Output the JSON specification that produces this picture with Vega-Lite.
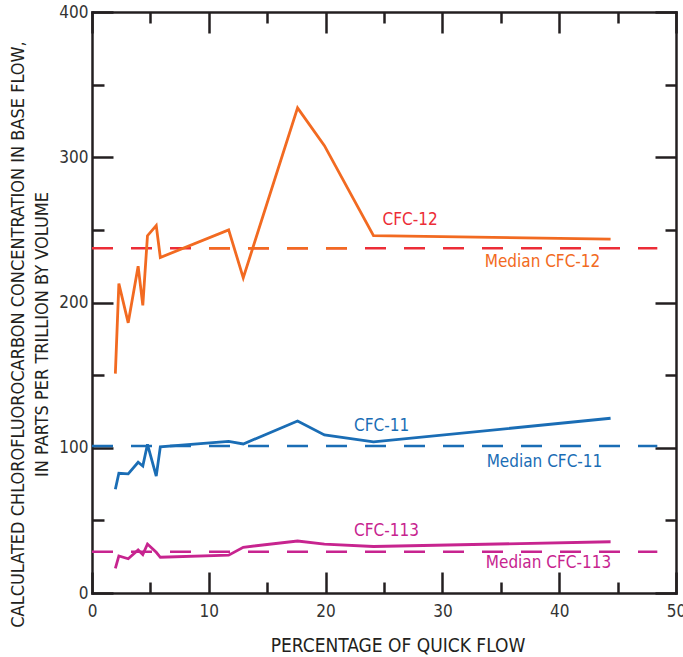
{
  "$schema": "https://vega.github.io/schema/vega-lite/v6.json",
  "width": 584,
  "height": 581,
  "autosize": {"type": "none"},
  "padding": {"left": 92, "top": 12, "right": 7, "bottom": 64},
  "background": "white",
  "config": {
    "view": {"stroke": null},
    "font": "'DejaVu Sans Condensed', Roboto",
    "axis": {"grid": false}
  },
  "datasets": {
    "lines": [
      {"gas": "CFC-12", "quick": 2.0, "conc": 151},
      {"gas": "CFC-12", "quick": 2.3, "conc": 213},
      {"gas": "CFC-12", "quick": 3.1, "conc": 186},
      {"gas": "CFC-12", "quick": 3.95, "conc": 225},
      {"gas": "CFC-12", "quick": 4.35, "conc": 198},
      {"gas": "CFC-12", "quick": 4.75, "conc": 246},
      {"gas": "CFC-12", "quick": 5.5, "conc": 253},
      {"gas": "CFC-12", "quick": 5.85, "conc": 231},
      {"gas": "CFC-12", "quick": 11.7, "conc": 250},
      {"gas": "CFC-12", "quick": 12.95, "conc": 217},
      {"gas": "CFC-12", "quick": 17.6, "conc": 334},
      {"gas": "CFC-12", "quick": 19.9, "conc": 308},
      {"gas": "CFC-12", "quick": 24.1, "conc": 246},
      {"gas": "CFC-12", "quick": 44.4, "conc": 243.7},
      {"gas": "CFC-11", "quick": 2.0, "conc": 71.4},
      {"gas": "CFC-11", "quick": 2.3, "conc": 82.4},
      {"gas": "CFC-11", "quick": 3.1, "conc": 82},
      {"gas": "CFC-11", "quick": 3.95, "conc": 90},
      {"gas": "CFC-11", "quick": 4.35, "conc": 87.4},
      {"gas": "CFC-11", "quick": 4.75, "conc": 102.4},
      {"gas": "CFC-11", "quick": 5.5, "conc": 80.5},
      {"gas": "CFC-11", "quick": 5.85, "conc": 100.7},
      {"gas": "CFC-11", "quick": 11.7, "conc": 104.4},
      {"gas": "CFC-11", "quick": 12.95, "conc": 102.6},
      {"gas": "CFC-11", "quick": 17.6, "conc": 118.4},
      {"gas": "CFC-11", "quick": 19.9, "conc": 108.8},
      {"gas": "CFC-11", "quick": 24.1, "conc": 104},
      {"gas": "CFC-11", "quick": 44.4, "conc": 120.3},
      {"gas": "CFC-113", "quick": 2.0, "conc": 17},
      {"gas": "CFC-113", "quick": 2.3, "conc": 25.5},
      {"gas": "CFC-113", "quick": 3.1, "conc": 23.6},
      {"gas": "CFC-113", "quick": 3.95, "conc": 29.6},
      {"gas": "CFC-113", "quick": 4.35, "conc": 26.4},
      {"gas": "CFC-113", "quick": 4.75, "conc": 33.7},
      {"gas": "CFC-113", "quick": 5.5, "conc": 28},
      {"gas": "CFC-113", "quick": 5.85, "conc": 24.6},
      {"gas": "CFC-113", "quick": 11.7, "conc": 26},
      {"gas": "CFC-113", "quick": 12.95, "conc": 31.5},
      {"gas": "CFC-113", "quick": 17.6, "conc": 35.8},
      {"gas": "CFC-113", "quick": 19.9, "conc": 33.7},
      {"gas": "CFC-113", "quick": 24.1, "conc": 32},
      {"gas": "CFC-113", "quick": 44.4, "conc": 35.3}
    ],
    "medians": [
      {"gas": "CFC-12", "median": 237.3, "from": 0, "to": 48.4},
      {"gas": "CFC-11", "median": 101.2, "from": 0, "to": 48.4},
      {"gas": "CFC-113", "median": 28.4, "from": 0, "to": 48.4}
    ],
    "medianOverlay": [
      {"gas": "CFC-12", "median": 237.3, "from": 10.017, "to": 21.83}
    ],
    "labels": [
      {"gas": "CFC-12", "kind": "series", "text": "CFC-12", "quick": 27.23, "conc": 257.1},
      {"gas": "CFC-12", "kind": "median", "text": "Median CFC-12", "quick": 38.57, "conc": 227.9},
      {"gas": "CFC-11", "kind": "series", "text": "CFC-11", "quick": 24.79, "conc": 115.0},
      {"gas": "CFC-11", "kind": "median", "text": "Median CFC-11", "quick": 38.74, "conc": 90.2},
      {"gas": "CFC-113", "kind": "series", "text": "CFC-113", "quick": 25.21, "conc": 42.7},
      {"gas": "CFC-113", "kind": "median", "text": "Median CFC-113", "quick": 39.08, "conc": 20.65}
    ]
  },
  "layer": [
    {
      "data": {"name": "medians"},
      "mark": {"type": "rule", "strokeWidth": 2.5, "strokeDash": [21, 18]},
      "encoding": {
        "x": {
          "field": "from", "type": "quantitative",
          "scale": {"domain": [0, 50], "nice": false, "zero": true},
          "axis": {
            "orient": "top", "labels": false, "title": null,
            "values": [0, 5, 10, 15, 20, 25, 30, 35, 40, 45, 50],
            "tickSize": {"condition": {"test": "datum.value % 10 === 0", "value": -21}, "value": -11},
            "tickColor": "#231f20", "tickWidth": 2.5,
            "domainColor": "#231f20", "domainWidth": 2.5, "domainCap": "square"
          }
        },
        "x2": {"field": "to"},
        "y": {
          "field": "median", "type": "quantitative",
          "scale": {"domain": [0, 400], "nice": false},
          "axis": {
            "orient": "right", "labels": false, "title": null,
            "values": [0, 50, 100, 150, 200, 250, 300, 350, 400],
            "tickSize": {"condition": {"test": "datum.value % 100 === 0", "value": -21}, "value": -11},
            "tickColor": "#231f20", "tickWidth": 2.5,
            "domainColor": "#231f20", "domainWidth": 2.5, "domainCap": "square"
          }
        },
        "color": {
          "condition": {"test": "datum.gas === 'CFC-12'", "value": "#ec2d37"},
          "field": "gas", "type": "nominal",
          "scale": {"domain": ["CFC-12", "CFC-11", "CFC-113"], "range": ["#f26a21", "#1a6db5", "#c7248f"]},
          "legend": null
        }
      }
    },
    {
      "data": {"name": "medianOverlay"},
      "mark": {"type": "rule", "strokeWidth": 2.5, "strokeDash": [21, 18], "color": "#f26a21"},
      "encoding": {
        "x": {"field": "from", "type": "quantitative", "axis": null},
        "x2": {"field": "to"},
        "y": {"field": "median", "type": "quantitative", "axis": null}
      }
    },
    {
      "data": {"name": "lines"},
      "mark": {"type": "line", "strokeWidth": 2.8, "strokeJoin": "miter", "strokeMiterLimit": 4},
      "encoding": {
        "x": {
          "field": "quick", "type": "quantitative",
          "axis": {
            "orient": "bottom",
            "values": [0, 5, 10, 15, 20, 25, 30, 35, 40, 45, 50],
            "labelExpr": "datum.value % 10 === 0 ? datum.label : ''",
            "tickSize": {"condition": {"test": "datum.value % 10 === 0", "value": -21}, "value": -11},
            "tickColor": "#231f20", "tickWidth": 2.5,
            "domainColor": "#231f20", "domainWidth": 2.5, "domainCap": "square",
            "labelFont": "'DejaVu Sans Condensed', Roboto", "labelFontSize": 17, "labelColor": "#333333",
            "labelPadding": 31, "labelFlush": false, "labelOverlap": false,
            "title": "PERCENTAGE OF QUICK FLOW",
            "titleFont": "'DejaVu Sans Condensed', Roboto", "titleFontSize": 19, "titleFontWeight": "normal",
            "titleColor": "#231f20", "titleX": 305.5, "titleY": 58, "titleAlign": "center", "titleBaseline": "alphabetic"
          }
        },
        "y": {
          "field": "conc", "type": "quantitative",
          "axis": {
            "orient": "left",
            "values": [0, 50, 100, 150, 200, 250, 300, 350, 400],
            "labelExpr": "datum.value % 100 === 0 ? datum.label : ''",
            "tickSize": {"condition": {"test": "datum.value % 100 === 0", "value": -21}, "value": -12},
            "tickColor": "#231f20", "tickWidth": 2.5,
            "domainColor": "#231f20", "domainWidth": 2.5, "domainCap": "square",
            "labelFont": "'DejaVu Sans Condensed', Roboto", "labelFontSize": 17, "labelColor": "#333333",
            "labelPadding": 25, "labelFlush": false, "labelOverlap": false,
            "title": ["CALCULATED CHLOROFLUOROCARBON CONCENTRATION IN BASE FLOW,", "IN PARTS PER TRILLION BY VOLUME"],
            "titleFont": "'DejaVu Sans Condensed', Roboto", "titleFontSize": 18, "titleFontWeight": "normal",
            "titleColor": "#231f20", "titleAngle": -90, "titleX": -74, "titleY": 322,
            "titleAlign": "center", "titleBaseline": "middle", "titleLineHeight": 24
          }
        },
        "color": {"field": "gas", "type": "nominal", "legend": null},
        "detail": {"field": "gas"}
      }
    },
    {
      "data": {"name": "labels"},
      "mark": {"type": "text", "font": "'DejaVu Sans Condensed', Roboto", "fontSize": 17, "align": "center", "baseline": "middle"},
      "encoding": {
        "x": {"field": "quick", "type": "quantitative", "axis": null},
        "y": {"field": "conc", "type": "quantitative", "axis": null},
        "text": {"field": "text"},
        "color": {
          "condition": {"test": "datum.gas === 'CFC-12' && datum.kind === 'series'", "value": "#ec2d37"},
          "field": "gas", "type": "nominal", "legend": null
        }
      }
    }
  ]
}
